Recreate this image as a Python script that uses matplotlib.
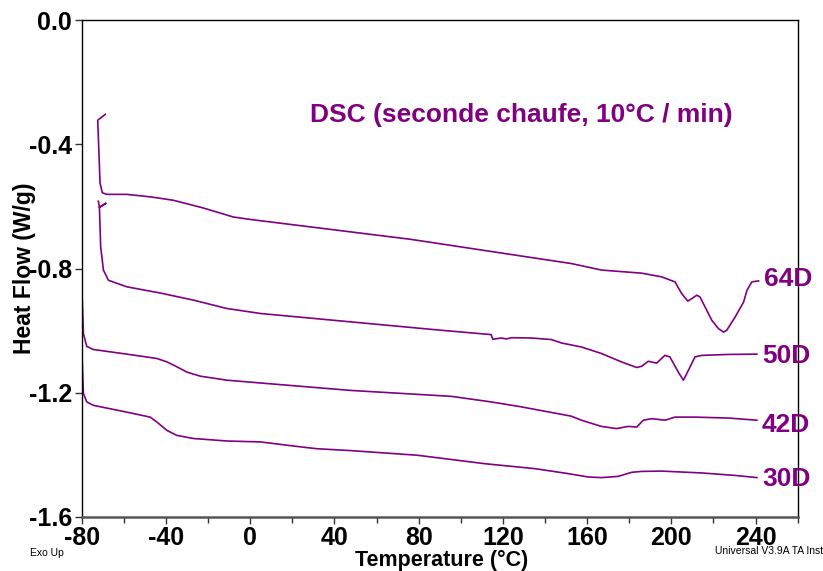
import matplotlib
matplotlib.use("Agg")
import matplotlib.pyplot as plt
from matplotlib.ticker import MultipleLocator

plt.rcParams['font.family'] = ['Liberation Sans', 'DejaVu Sans']
plt.rcParams['axes.unicode_minus'] = False

# Heat flow curves (temperature in degC, heat flow in W/g), second heating
t_64D = [-68.8, -72.4, -71.3, -70.2, -68.1, -58.6, -47.5, -36.5, -22.2, -8.0, 0.2,
         76.3, 119.2, 152.5, 166.8, 185.9, 195.4, 201.7, 204.9, 207.8, 209.7, 212.1,
         213.6, 216.0, 219.2, 222.4, 224.8, 226.3, 230.3, 234.3, 235.9, 238.2, 241.4]
hf_64D = [-0.303, -0.322, -0.525, -0.556, -0.561, -0.561, -0.569, -0.580, -0.605, -0.634, -0.642,
          -0.706, -0.750, -0.784, -0.805, -0.815, -0.827, -0.843, -0.881, -0.905, -0.897, -0.886,
          -0.892, -0.924, -0.967, -0.994, -1.005, -0.999, -0.956, -0.908, -0.870, -0.843, -0.840]

t_50D = [-72.1, -71.6, -68.6, -71.6, -71.0, -69.7, -67.3, -58.6, -42.7, -26.9, -11.0, 4.9,
         90.6, 114.4, 115.2, 119.2, 121.6, 124.0, 133.5, 143.0, 147.8, 157.3, 166.8, 176.3,
         183.5, 185.9, 189.0, 193.0, 196.9, 199.3, 203.3, 205.7, 208.1, 211.2, 214.4, 227.1, 240.6]
hf_50D = [-0.583, -0.603, -0.590, -0.603, -0.730, -0.805, -0.838, -0.859, -0.879, -0.902, -0.929, -0.945,
          -0.999, -1.013, -1.028, -1.024, -1.027, -1.023, -1.024, -1.029, -1.040, -1.053, -1.074, -1.101,
          -1.119, -1.115, -1.099, -1.105, -1.080, -1.085, -1.134, -1.160, -1.128, -1.085, -1.080, -1.077, -1.076]

t_42D = [-79.9, -79.2, -77.6, -74.5, -58.6, -44.3, -39.5, -34.8, -30.0, -23.7, -11.0, 4.9,
         47.8, 95.4, 114.4, 128.8, 152.5, 157.3, 166.8, 173.9, 179.5, 183.5, 186.7, 190.6,
         197.0, 201.7, 211.2, 227.1, 240.6]
hf_42D = [-0.870, -1.010, -1.051, -1.061, -1.076, -1.090, -1.101, -1.117, -1.134, -1.147, -1.160, -1.169,
          -1.193, -1.212, -1.230, -1.246, -1.276, -1.289, -1.309, -1.316, -1.309, -1.311, -1.289, -1.284,
          -1.289, -1.279, -1.279, -1.282, -1.289]

t_30D = [-79.9, -79.2, -77.6, -74.5, -58.6, -47.5, -44.3, -39.5, -34.8, -26.9, -11.0, 4.9,
         24.0, 31.9, 47.8, 79.5, 111.2, 135.0, 150.9, 160.5, 166.8, 174.8, 181.1, 185.9,
         195.4, 214.4, 230.3, 240.6]
hf_30D = [-1.074, -1.203, -1.230, -1.241, -1.263, -1.279, -1.295, -1.322, -1.338, -1.348, -1.356, -1.359,
          -1.375, -1.381, -1.387, -1.402, -1.429, -1.445, -1.461, -1.472, -1.474, -1.470, -1.457, -1.454,
          -1.453, -1.459, -1.467, -1.474]

curves = [('64D', t_64D, hf_64D), ('50D', t_50D, hf_50D),
          ('42D', t_42D, hf_42D), ('30D', t_30D, hf_30D)]
# label nudges (points) relative to each curve's end
label_dy = [1.2, -1.0, -3.6, -1.0]

x_ticks = [-80, -40, 0, 40, 80, 120, 160, 200, 240]
y_ticks = [0.0, -0.4, -0.8, -1.2, -1.6]
y_ticklabels = ['0.0', '-0.4', '-0.8', '-1.2', '-1.6']

purple = '#800080'

fig = plt.figure(figsize=(8.23, 5.71), dpi=100)
ax = fig.add_axes([0.0993, 0.0951, 0.8700, 0.8693])

for (name, t, hf), dy in zip(curves, label_dy):
    ax.plot(t, hf, color=purple, lw=1.2, solid_joinstyle='round')
    ax.annotate(name, xy=(t[-1], hf[-1]), xytext=(3.6, dy), textcoords='offset points',
                ha='left', va='center', fontsize=19, fontweight='bold', color=purple,
                annotation_clip=False, zorder=10)

ax.set_xlim(-80, 260)
ax.set_ylim(-1.6, 0.0)
ax.set_xticks(x_ticks)
ax.xaxis.set_minor_locator(MultipleLocator(20))
ax.set_yticks(y_ticks)
ax.set_yticklabels(y_ticklabels)

for lab in ax.get_xticklabels() + ax.get_yticklabels():
    lab.set_fontweight('bold')
ax.tick_params(axis='both', which='major', direction='out', length=5, width=1,
               labelsize=18, pad=2, color='#333333')
ax.tick_params(axis='x', which='minor', direction='out', length=4, width=1, color='#333333')

for side in ['top', 'right', 'left']:
    ax.spines[side].set_linewidth(1.0)
    ax.spines[side].set_color('black')
ax.spines['bottom'].set_linewidth(1.8)
ax.spines['bottom'].set_color('#555555')

ax.text(0.6135, 0.7957, 'DSC (seconde chaufe, 10°C / min)', transform=ax.transAxes,
        ha='center', va='baseline', fontsize=19, fontweight='bold', color=purple)

fig.text(25 / 823, 1 - 268 / 571, 'Heat Flow (W/g)', rotation=90, ha='center', va='center',
         fontsize=16.5, fontweight='bold')
fig.text(442 / 823, 1 - 560 / 571, 'Temperature (°C)', ha='center', va='center',
         fontsize=15.5, fontweight='bold')
fig.text(30 / 823, 1 - 553 / 571, 'Exo Up', ha='left', va='center', fontsize=7.5)
fig.text(715 / 823, 1 - 551 / 571, 'Universal V3.9A TA Instruments', ha='left', va='center',
         fontsize=7.5)

fig.savefig('out.png', dpi=100)
